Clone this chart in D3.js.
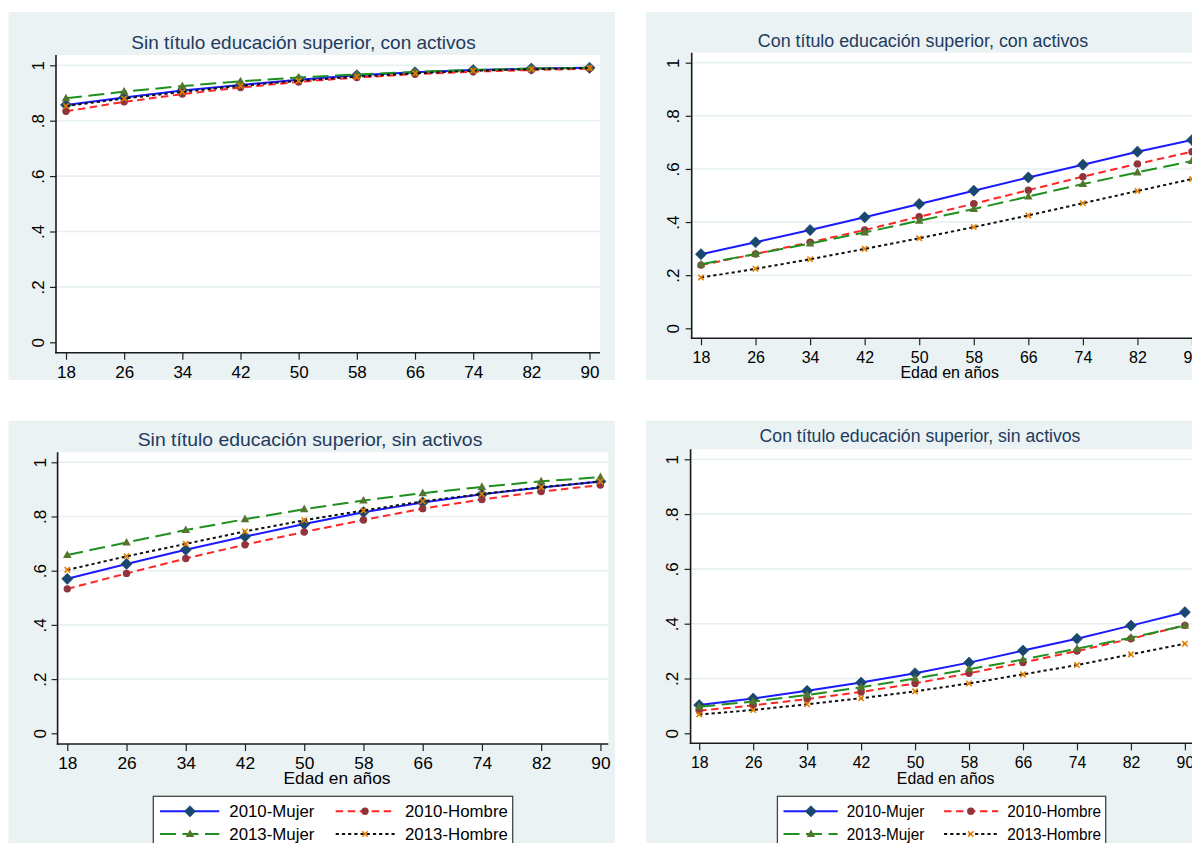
<!DOCTYPE html>
<html>
<head>
<meta charset="utf-8">
<script src="https://cdn.jsdelivr.net/npm/d3@7"></script>
<style>
  html, body { margin: 0; padding: 0; background: #ffffff; }
  svg { display: block; }
  text { font-family: "Liberation Sans", Arial, Helvetica, sans-serif; }
</style>
</head>
<body>
<svg id="chart" width="1192" height="843"></svg>
<script>
// ---- data ----------------------------------------------------------------
const ages = [18, 26, 34, 42, 50, 58, 66, 74, 82, 90];
const yTicks = [0, 0.2, 0.4, 0.6, 0.8, 1];
const yTickLabels = ["0", ".2", ".4", ".6", ".8", "1"];
const seriesNames = ["2010-Mujer", "2010-Hombre", "2013-Mujer", "2013-Hombre"];
const panelTitles = [
  "Sin título educación superior, con activos",
  "Con título educación superior, con activos",
  "Sin título educación superior, sin activos",
  "Con título educación superior, sin activos"
];
const xAxisTitle = "Edad en años";

// Sin título, con activos
const sinConMujer2010  = [0.857, 0.884, 0.909, 0.929, 0.948, 0.964, 0.975, 0.983, 0.988, 0.991];
const sinConHombre2010 = [0.834, 0.868, 0.896, 0.920, 0.940, 0.956, 0.968, 0.977, 0.983, 0.988];
const sinConMujer2013  = [0.881, 0.905, 0.925, 0.942, 0.956, 0.967, 0.976, 0.983, 0.988, 0.991];
const sinConHombre2013 = [0.853, 0.880, 0.904, 0.926, 0.944, 0.959, 0.971, 0.980, 0.986, 0.990];

// Con título, con activos
const conConMujer2010  = [0.279, 0.324, 0.370, 0.418, 0.468, 0.518, 0.568, 0.616, 0.665, 0.709];
const conConHombre2010 = [0.238, 0.280, 0.324, 0.370, 0.420, 0.469, 0.520, 0.571, 0.619, 0.665];
const conConMujer2013  = [0.241, 0.280, 0.319, 0.361, 0.405, 0.449, 0.496, 0.543, 0.587, 0.630];
const conConHombre2013 = [0.191, 0.224, 0.260, 0.299, 0.339, 0.381, 0.425, 0.471, 0.517, 0.562];

// Sin título, sin activos
const sinSinMujer2010  = [0.570, 0.625, 0.677, 0.726, 0.772, 0.816, 0.852, 0.882, 0.907, 0.929];
const sinSinHombre2010 = [0.533, 0.590, 0.645, 0.696, 0.743, 0.787, 0.829, 0.863, 0.892, 0.916];
const sinSinMujer2013  = [0.658, 0.704, 0.750, 0.790, 0.827, 0.859, 0.886, 0.909, 0.930, 0.945];
const sinSinHombre2013 = [0.603, 0.653, 0.699, 0.745, 0.786, 0.822, 0.856, 0.883, 0.908, 0.929];

// Con título, sin activos
const conSinMujer2010  = [0.103, 0.127, 0.155, 0.185, 0.219, 0.258, 0.302, 0.345, 0.393, 0.442];
const conSinHombre2010 = [0.082, 0.102, 0.125, 0.151, 0.182, 0.219, 0.258, 0.300, 0.345, 0.394];
const conSinMujer2013  = [0.097, 0.116, 0.140, 0.168, 0.200, 0.234, 0.269, 0.309, 0.349, 0.393];
const conSinHombre2013 = [0.069, 0.085, 0.106, 0.128, 0.153, 0.182, 0.215, 0.249, 0.288, 0.327];

const panelSeries = [
  [sinConMujer2010, sinConHombre2010, sinConMujer2013, sinConHombre2013],
  [conConMujer2010, conConHombre2010, conConMujer2013, conConHombre2013],
  [sinSinMujer2010, sinSinHombre2010, sinSinMujer2013, sinSinHombre2013],
  [conSinMujer2010, conSinHombre2010, conSinMujer2013, conSinHombre2013]
];

// ---- styles --------------------------------------------------------------
const styles = [
  { line: "#1a1aff", dash: null,      marker: "diamond",  fill: "#1a476f" },
  { line: "#ff2626", dash: "7.5,4.5", marker: "circle",   fill: "#90353b" },
  { line: "#1f8f1f", dash: "16,6.5",  marker: "triangle", fill: "#55752f" },
  { line: "#111111", dash: "3.2,3",   marker: "cross",    fill: "#e37e00" }
];

// ---- panel layout --------------------------------------------------------
const layouts = [
  { bg: [8.6, 12, 615, 380], plot: { l: 56, t: 55, r: 600, b: 352.7 },
    xr: [66, 589.5], yr: [342.3, 65.3], title: [303.5, 49], sx: 1.0,
    xTitle: null, legend: null },
  { bg: [646, 12, 1200, 380], plot: { l: 691.7, t: 52.7, r: 1207, b: 338.3 },
    xr: [701, 1192], yr: [328.3, 62.7], title: [923, 46.5], sx: 0.94,
    xTitle: [949.7, 377.8], legend: null },
  { bg: [8.6, 420.7, 615, 843], plot: { l: 57.6, t: 452.3, r: 608.3, b: 744 },
    xr: [67.3, 600.4], yr: [733.3, 462.3], title: [310, 446], sx: 1.02,
    xTitle: [337, 784.4], legend: [153.3, 796.3, 359.4] },
  { bg: [646, 420.7, 1200, 843], plot: { l: 690.6, t: 449.3, r: 1207, b: 743.3 },
    xr: [699.2, 1184.9], yr: [733.3, 459.3], title: [920, 442], sx: 0.93,
    xTitle: [945.6, 784.4], legend: [777.4, 796.3, 328.3] }
];

const svg = d3.select("#chart");

// marker shapes centred on the origin
function drawMarker(g, kind, fill, cx, cy) {
  const t = `translate(${cx},${cy})`;
  if (kind === "diamond") {
    g.append("path").attr("d", "M0,-5.6L5.6,0L0,5.6L-5.6,0Z")
      .attr("transform", t).attr("fill", fill).attr("stroke", fill).attr("stroke-width", 0.6);
  } else if (kind === "circle") {
    g.append("circle").attr("cx", cx).attr("cy", cy).attr("r", 3.7).attr("fill", fill);
  } else if (kind === "triangle") {
    g.append("path").attr("d", "M0,-4.6L4.3,3L-4.3,3Z")
      .attr("transform", t).attr("fill", fill);
  } else {
    g.append("path").attr("d", "M-2.7,-2.7L2.7,2.7M-2.7,2.7L2.7,-2.7")
      .attr("transform", t).attr("stroke", fill).attr("stroke-width", 1.6).attr("fill", "none");
  }
}

// text squeezed horizontally by the panel's width factor
function label(g, x, y, str, size, sx, anchor, color) {
  return g.append("text")
    .attr("transform", `translate(${x},${y}) scale(${sx},1)`)
    .attr("text-anchor", anchor || "middle")
    .attr("font-size", size)
    .attr("fill", color || "#000")
    .text(str);
}

layouts.forEach((L, pi) => {
  const g = svg.append("g");
  const [bx0, by0, bx1, by1] = L.bg;
  const P = L.plot;

  // graph region and plot region
  g.append("rect").attr("x", bx0).attr("y", by0)
    .attr("width", bx1 - bx0).attr("height", by1 - by0).attr("fill", "#eaf2f3");
  g.append("rect").attr("x", P.l).attr("y", P.t)
    .attr("width", P.r - P.l).attr("height", P.b - P.t).attr("fill", "#ffffff");

  const x = d3.scaleLinear().domain([18, 90]).range(L.xr);
  const y = d3.scaleLinear().domain([0, 1]).range(L.yr);

  // horizontal grid
  g.append("g").selectAll("line")
    .data(yTicks.filter(v => v > 0))
    .join("line")
    .attr("x1", P.l).attr("x2", P.r)
    .attr("y1", d => y(d)).attr("y2", d => y(d))
    .attr("stroke", "#e6eff1").attr("stroke-width", 1.6);

  // y axis
  const yAxis = g.append("g").attr("transform", `translate(${P.l},0)`)
    .call(d3.axisLeft(y).tickValues(yTicks).tickFormat((d, i) => yTickLabels[i])
      .tickSize(6).tickSizeOuter(0));
  yAxis.select(".domain").remove();
  yAxis.selectAll(".tick line").attr("stroke", "#222").attr("stroke-width", 1.2);
  yAxis.selectAll(".tick text")
    .attr("x", null).attr("y", null).attr("dy", "0.36em")
    .attr("transform", `translate(-18,0) scale(${L.sx},1) rotate(-90)`)
    .attr("text-anchor", "middle")
    .attr("font-size", 17).attr("font-family", null).attr("fill", "#000");

  // x axis
  const xAxis = g.append("g").attr("transform", `translate(0,${P.b})`)
    .call(d3.axisBottom(x).tickValues(ages).tickFormat(d3.format("d"))
      .tickSize(7).tickSizeOuter(0));
  xAxis.select(".domain").remove();
  xAxis.selectAll(".tick line").attr("stroke", "#222").attr("stroke-width", 1.2);
  xAxis.selectAll(".tick text")
    .attr("y", null).attr("dy", null)
    .attr("transform", `translate(0,25.1) scale(${L.sx},1)`)
    .attr("font-size", 17).attr("font-family", null).attr("fill", "#000");

  // axis lines
  g.append("line").attr("x1", P.l).attr("x2", P.l).attr("y1", P.t).attr("y2", P.b + 0.8)
    .attr("stroke", "#1a1a1a").attr("stroke-width", 1.6);
  g.append("line").attr("x1", P.l - 0.8).attr("x2", P.r).attr("y1", P.b).attr("y2", P.b)
    .attr("stroke", "#1a1a1a").attr("stroke-width", 1.6);

  // series
  const lineGen = d3.line().x((d, i) => x(ages[i])).y(d => y(d));
  panelSeries[pi].forEach((vals, si) => {
    const st = styles[si];
    const sg = g.append("g");
    sg.append("path").datum(vals).attr("d", lineGen)
      .attr("fill", "none").attr("stroke", st.line).attr("stroke-width", 2)
      .attr("stroke-dasharray", st.dash);
    vals.forEach((v, i) => drawMarker(sg, st.marker, st.fill, x(ages[i]), y(v)));
  });

  // titles
  label(g, L.title[0], L.title[1], panelTitles[pi], 19, L.sx, "middle", "#233a5e");
  if (L.xTitle) label(g, L.xTitle[0], L.xTitle[1], xAxisTitle, 17, L.sx, "middle");

  // legend
  if (L.legend) {
    const [lx, ly, lw] = L.legend;
    const k = lw / 359.4;
    const lg = g.append("g");
    lg.append("rect").attr("x", lx).attr("y", ly).attr("width", lw).attr("height", 70)
      .attr("fill", "#ffffff").attr("stroke", "#444").attr("stroke-width", 1.3);
    const cols = [
      { a: 6.7, b: 66, m: 36.7, t: 76 },
      { a: 182.4, b: 241.7, m: 211.7, t: 251.7 }
    ];
    const rowsY = [ly + 15, ly + 37.7];
    seriesNames.forEach((name, si) => {
      const c = cols[si % 2];
      const ry = rowsY[Math.floor(si / 2)];
      const st = styles[si];
      lg.append("line").attr("x1", lx + c.a * k).attr("x2", lx + c.b * k)
        .attr("y1", ry).attr("y2", ry)
        .attr("stroke", st.line).attr("stroke-width", 2)
        .attr("stroke-dasharray", st.dash);
      drawMarker(lg, st.marker, st.fill, lx + c.m * k, ry);
      label(lg, lx + c.t * k, ry + 6, name, 16.5, L.sx, "start");
    });
  }
});
</script>
</body>
</html>
